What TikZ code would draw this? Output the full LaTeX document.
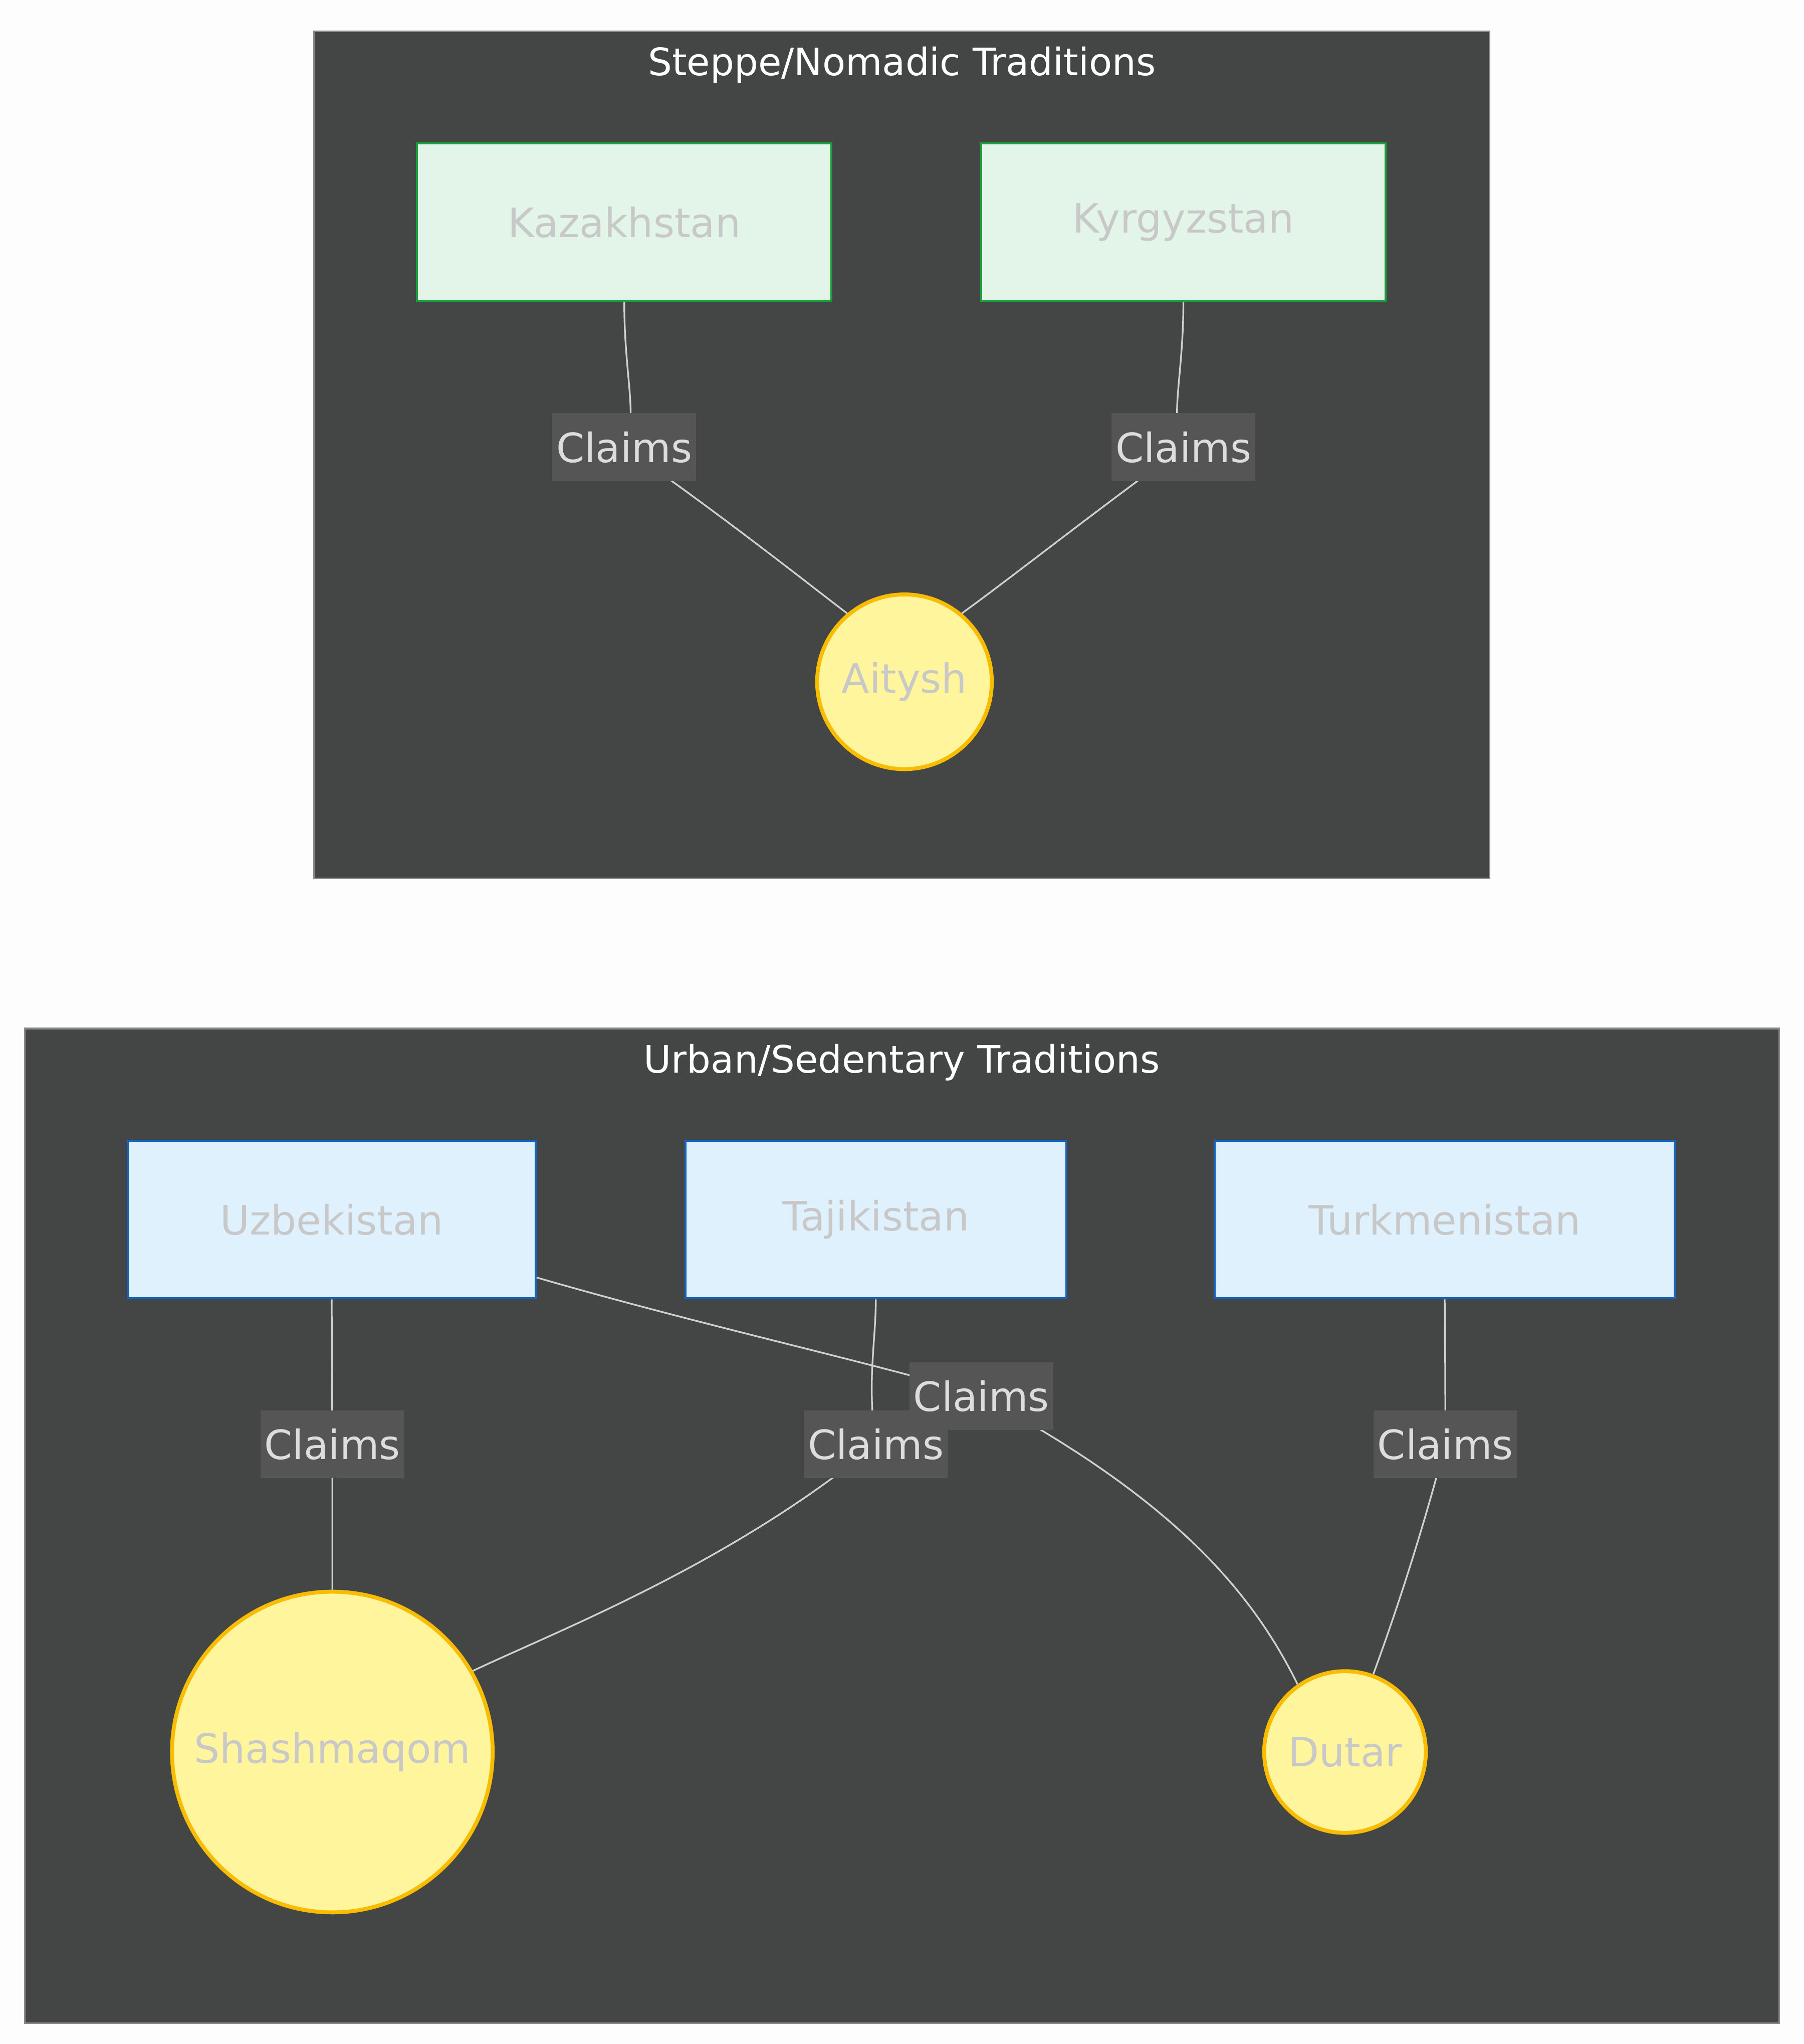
\documentclass[tikz,border=0pt]{standalone}
\usepackage{fontspec}
\setmainfont{DejaVu Sans}
\definecolor{bgc}{HTML}{FDFDFD}
\definecolor{clus}{HTML}{434645}
\definecolor{clusb}{HTML}{8A8A8A}
\definecolor{gfill}{HTML}{E2F5E8}
\definecolor{gline}{HTML}{1A9E3E}
\definecolor{bfill}{HTML}{DFF1FD}
\definecolor{bline}{HTML}{1565C0}
\definecolor{cfill}{HTML}{FFF59D}
\definecolor{cline}{HTML}{F9BC00}
\definecolor{ntext}{HTML}{C8C8C8}
\definecolor{lfill}{HTML}{555555}
\definecolor{ltext}{HTML}{DDDDDD}
\definecolor{edge}{HTML}{D0D0D0}
\begin{document}
\begin{tikzpicture}[x=1pt,y=-1pt,
  cluster/.style={draw=clusb,fill=clus,line width=1.2pt},
  ctitle/.style={text=white,font=\fontsize{29}{34}\selectfont},
  gbox/.style={draw=gline,fill=gfill,line width=1.5pt,minimum width=#1,minimum height=121pt,text=ntext,font=\fontsize{31}{36}\selectfont,inner sep=0},
  bbox/.style={draw=bline,fill=bfill,line width=1.5pt,minimum width=#1,minimum height=121pt,text=ntext,font=\fontsize{31}{36}\selectfont,inner sep=0},
  circ/.style={circle,draw=cline,fill=cfill,line width=3pt,minimum size=#1,text=ntext,font=\fontsize{31}{36}\selectfont,inner sep=0},
  lab/.style={fill=lfill,text=ltext,font=\fontsize{31}{36}\selectfont,inner sep=3pt,minimum height=52pt},
  con/.style={draw=edge,line width=1.3pt}]
\useasboundingbox (0,0) rectangle (1384,1568);
\fill[bgc] (0,0) rectangle (1384,1568);
% clusters
\draw[cluster] (241,24) rectangle (1143,674);
\node[ctitle] (t1) at (692,50) {Steppe/Nomadic Traditions};
\draw[cluster] (19,789) rectangle (1365,1552);
\node[ctitle] (t2) at (692,815) {Urban/Sedentary Traditions};
% nodes
\node[gbox=318pt] (kaz) at (479,170.5) {Kazakhstan};
\node[gbox=310pt] (kyr) at (908,170.5) {Kyrgyzstan};
\node[circ=134pt] (ait) at (694,523) {Aitysh};
\node[bbox=313pt] (uzb) at (254.5,935.5) {Uzbekistan};
\node[bbox=292pt] (taj) at (672,935.5) {Tajikistan};
\node[bbox=353pt] (tur) at (1108.5,935.5) {Turkmenistan};
\node[circ=246pt] (sha) at (255,1344) {Shashmaqom};
\node[circ=124pt] (dut) at (1032,1344) {Dutar};
% label anchors
\coordinate (l1) at (479,343);
\coordinate (l2) at (908,343);
\coordinate (l3) at (255,1108);
\coordinate (l4) at (672,1108);
\coordinate (l5) at (753,1071);
\coordinate (l6) at (1109,1108);
% edges
\draw[con] (kaz.south) .. controls (479,290) and (490,320) .. (l1) .. controls (560,400) and (610,440) .. (ait.130);
\draw[con] (kyr.south) .. controls (908,290) and (897,320) .. (l2) .. controls (830,400) and (780,440) .. (ait.50);
\draw[con] (uzb.south) -- (l3) -- (sha.north);
\draw[con] (taj.south) .. controls (672,1030) and (665,1060) .. (l4) .. controls (560,1200) and (430,1250) .. (sha.30);
\draw[con] (uzb.east|-0,980) .. controls (550,1020) and (690,1050) .. (l5) .. controls (900,1150) and (960,1220) .. (dut.125);
\draw[con] (tur.south) .. controls (1109,1050) and (1109,1080) .. (l6) .. controls (1090,1180) and (1070,1240) .. (dut.70);
% labels
\node[lab] at (l1) {Claims};
\node[lab] at (l2) {Claims};
\node[lab] at (l3) {Claims};
\node[lab] at (l4) {Claims};
\node[lab] at (l5) {Claims};
\node[lab] at (l6) {Claims};
\end{tikzpicture}
\end{document}
